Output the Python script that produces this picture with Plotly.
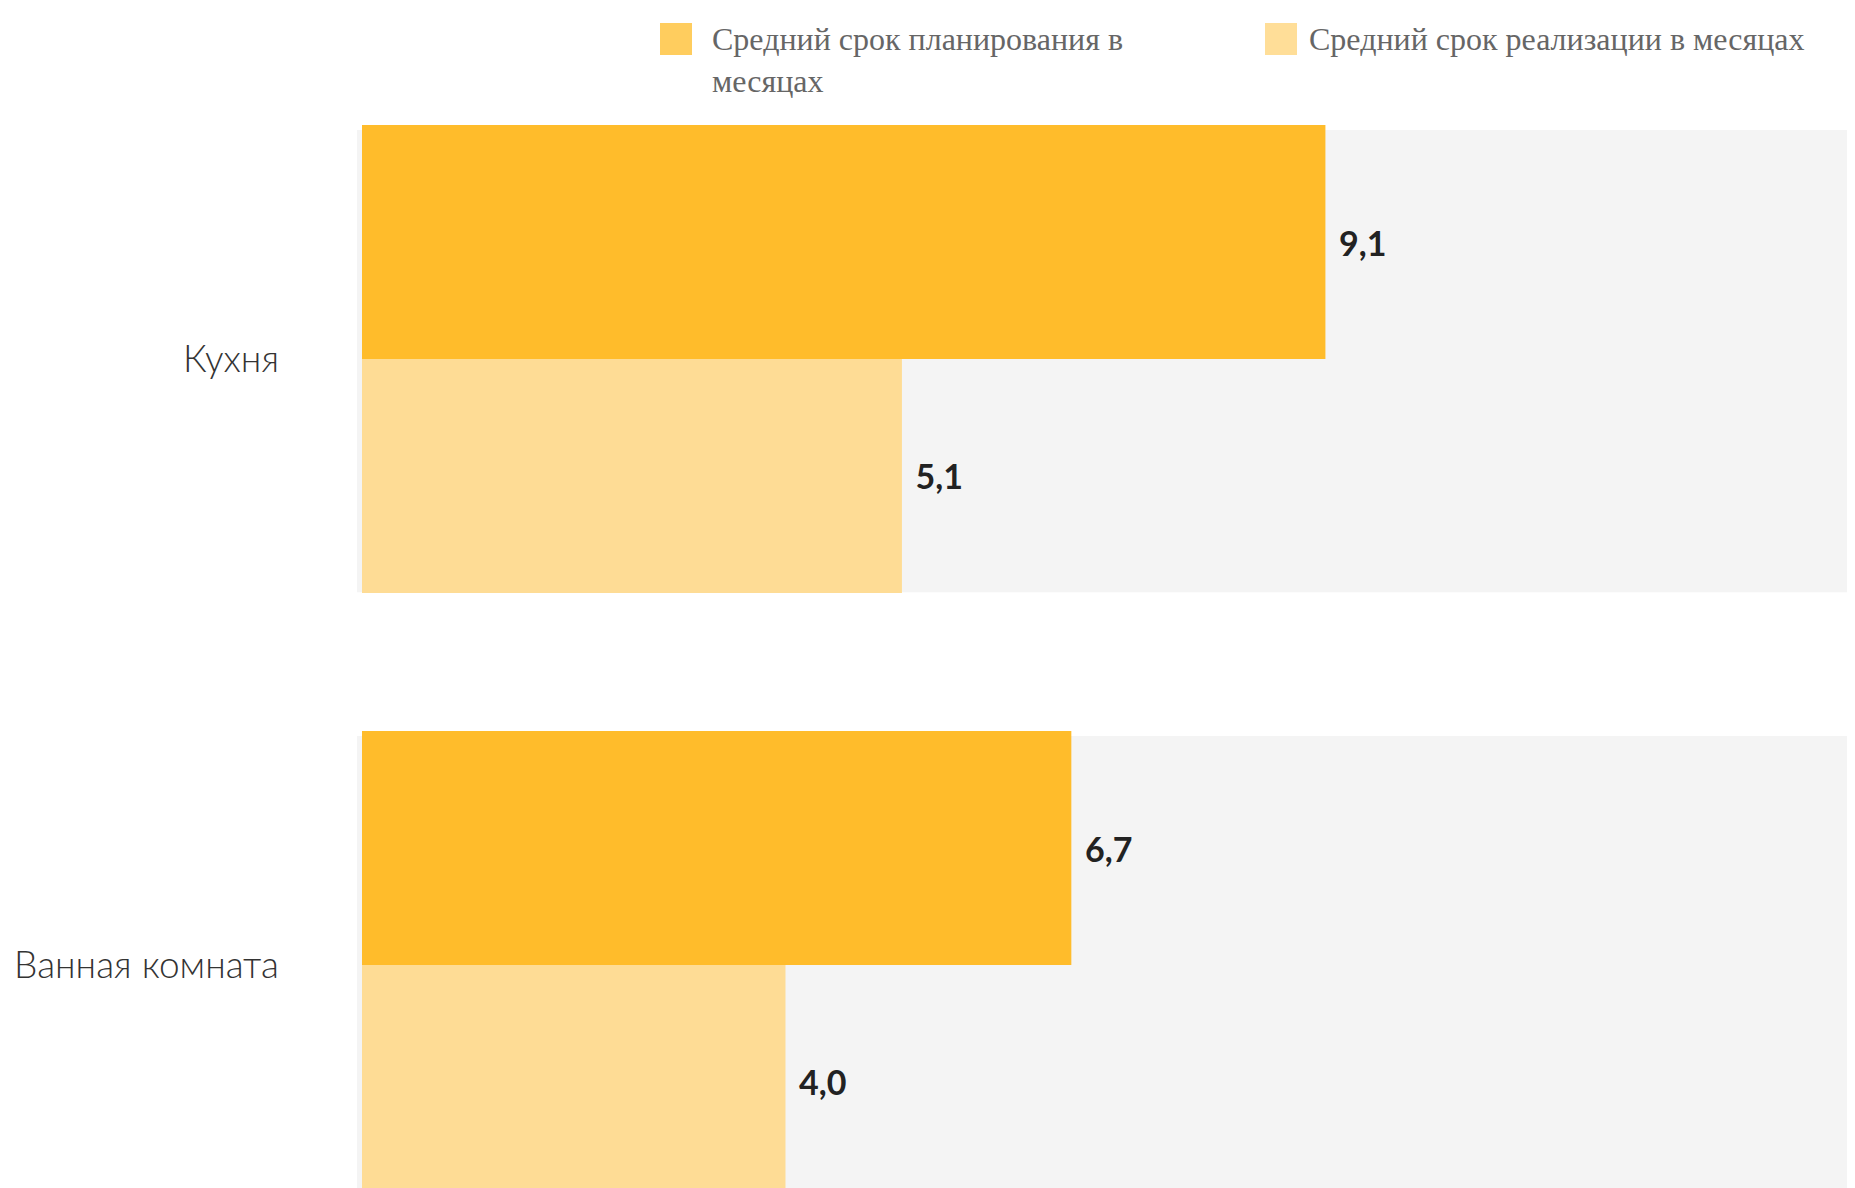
import plotly.graph_objects as go

categories = ["Кухня", "Ванная комната"]
series_names = ["Средний срок планирования в месяцах", "Средний срок реализации в месяцах"]
planning = [9.1, 6.7]
realization = [5.1, 4.0]

dark = "#FFBC2B"
light = "#FEDC95"
legend_colors = ["#FFCD5E", "#FFDE98"]

W, H = 1855, 1188
ml, mr, mt, mb = 354, 4, 100, 0
pw, ph = W - ml - mr, H - mt - mb

def px_x(x):
    return (x - ml) / pw

def px_y(y):
    return (H - mb - y) / ph

fig = go.Figure()
for vals, color, name in [(planning, dark, series_names[0]), (realization, light, series_names[1])]:
    fig.add_trace(go.Bar(
        y=categories, x=vals, orientation="h", name=name,
        marker=dict(color=color, line=dict(width=0)),
        texttemplate="\u2009\u2009\u200a%{x:.1f}", textposition="outside",
        constraintext="none", cliponaxis=False,
        textfont=dict(family="Lato", size=34, color="#222222", weight=700),
        showlegend=False, hoverinfo="skip",
    ))

shapes = []
for i, _ in enumerate(categories):
    shapes.append(dict(type="rect", xref="paper", yref="y", x0=-5 / pw, x1=1,
                       y0=i - 0.378, y1=i + 0.385, fillcolor="#F4F4F4",
                       line=dict(width=0), layer="below"))

# legend (custom, large swatches)
legend_items = [
    (652, "Средний срок планирования в<br>месяцах", legend_colors[0], 702),
    (1257, "Средний срок реализации в месяцах", legend_colors[1], 1299),
]
annotations = []
for sx, text, col, tx in legend_items:
    shapes.append(dict(type="rect", xref="paper", yref="paper",
                       x0=px_x(sx), x1=px_x(sx + 32), y0=px_y(47), y1=px_y(15),
                       fillcolor=col, line=dict(width=0)))
    annotations.append(dict(xref="paper", yref="paper", x=px_x(tx), y=px_y(11),
                            xanchor="left", yanchor="top", align="left", showarrow=False,
                            text=text, font=dict(family="Liberation Serif", size=32, color="#666666")))

fig.update_layout(
    width=W, height=H,
    margin=dict(l=ml, r=mr, t=mt, b=mb, pad=0),
    barmode="group", bargap=0.228, bargroupgap=0,
    separators=", ",
    plot_bgcolor="white", paper_bgcolor="white",
    shapes=shapes, annotations=annotations,
    xaxis=dict(range=[0, 14.14], visible=False, fixedrange=True),
    yaxis=dict(range=[1.3812, -0.4142], showgrid=False, zeroline=False, showline=False,
               ticks="", ticklabelstandoff=82,
               tickfont=dict(family="Lato", size=37, color="#333333", weight=300)),
)

fig.write_html("out.html")
